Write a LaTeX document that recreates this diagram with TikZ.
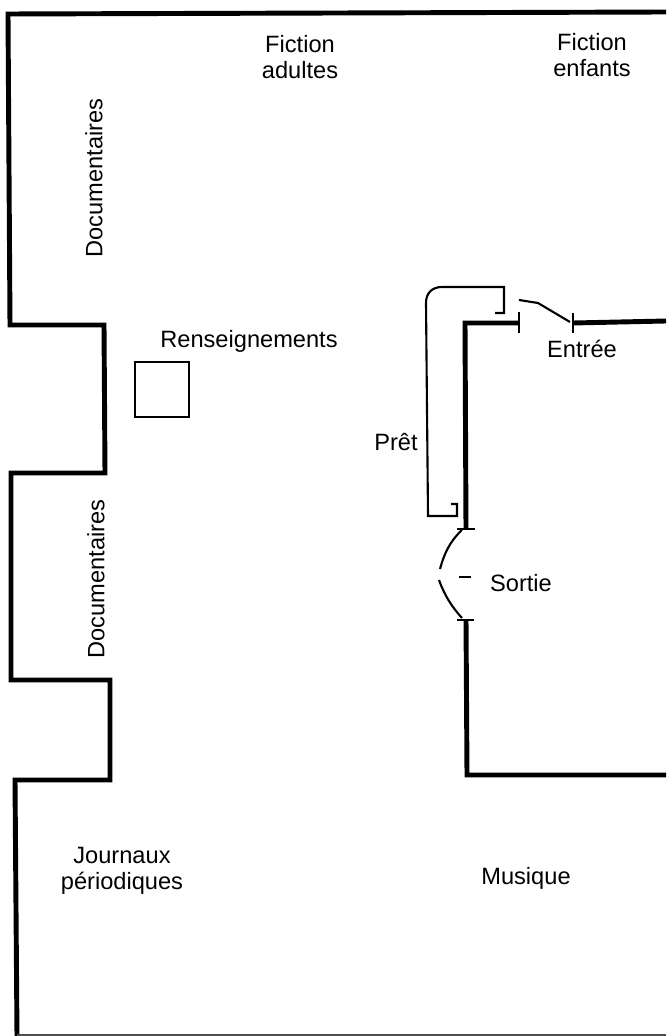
\documentclass[tikz,border=0pt]{standalone}
\usepackage{fontspec}
\setmainfont{Liberation Sans}
\begin{document}
\begin{tikzpicture}[
    x=0.025cm, y=-0.025cm,
    wall/.style={draw, line width=3.5pt, line join=miter},
    thinline/.style={draw, line width=1.5pt},
    label/.style={align=center, inner sep=0pt, font=\fontsize{16.8pt}{18.6pt}\selectfont}
]
\useasboundingbox (0,0) rectangle (666,1036);

% Outer walls
\draw[wall] (666,12) -- (8,14) -- (10,325) -- (104,325) -- (105,473) -- (11,473)
    -- (11,680) -- (110,680) -- (110,780) -- (15,780) -- (17,1036);
\draw[line width=1.3pt, black!70] (17,1035) -- (666,1035);

% Inner walls
\draw[wall] (519,323) -- (465,323) -- (466,529);
\draw[wall] (466,620) -- (467,775) -- (666,775);
\draw[wall] (573,323) -- (666,321);

% Entrance
\draw[thinline] (519,312) -- (519,333);
\draw[thinline] (573,313) -- (573,333);
\draw[thinline] (519,300) -- (538,303) -- (570,322);

% Exit
\draw[thinline] (457,529) -- (475,529);
\draw[thinline] (457,620) -- (474,620);
\draw[thinline] (462,530) .. controls (450,541) and (444,554) .. (440,569);
\draw[thinline] (439,580) .. controls (444,594) and (451,606) .. (462,618);
\draw[thinline] (459,577) -- (471,577);

% Lending desk
\draw[thinline] (495,313) -- (504,313) -- (504,287) -- (442,287)
    .. controls (432,287) and (426,293) .. (426,303) -- (428,516)
    -- (457,516) -- (457,504) -- (451,504);

% Information desk
\draw[thinline] (135,362) rectangle (189,417);

% Labels
\node[label] (adultes) at (300,57) {Fiction\\adultes};
\node[label] (enfants) at (592,55) {Fiction\\enfants};
\node[label, rotate=90] (doca) at (94,178) {Documentaires};
\node[label, rotate=90] (docb) at (96,579) {Documentaires};
\node[label] (renseignements) at (249,341) {Renseignements};
\node[label] (entree) at (582,349) {Entrée};
\node[label] (pret) at (396,442) {Prêt};
\node[label] (sortie) at (521,583) {Sortie};
\node[label] (journaux) at (122,871) {Journaux\\périodiques};
\node[label] (musique) at (526,878) {Musique};

\end{tikzpicture}
\end{document}
